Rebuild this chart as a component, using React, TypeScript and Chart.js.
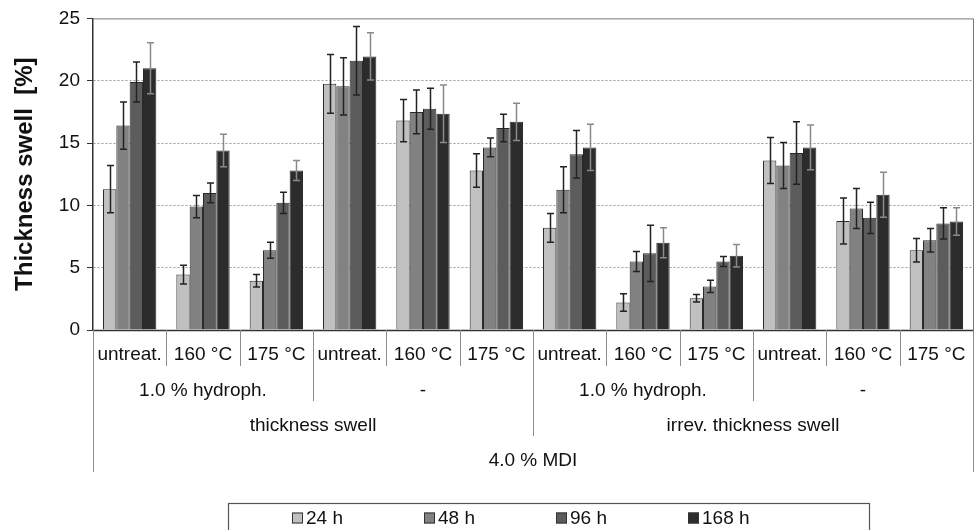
import React, { useEffect, useRef } from "react";
import { Chart, registerables } from "chart.js";

Chart.register(...registerables);

const categories = [
  "untreat.", "160 °C", "175 °C",
  "untreat.", "160 °C", "175 °C",
  "untreat.", "160 °C", "175 °C",
  "untreat.", "160 °C", "175 °C",
];
const additiveLabels = ["1.0 % hydroph.", "-", "1.0 % hydroph.", "-"];
const measureLabels = ["thickness swell", "irrev. thickness swell"];
const resinLabel = "4.0 % MDI";

const seriesNames = ["24 h", "48 h", "96 h", "168 h"];
const seriesColors = ["#c0c0c0", "#828282", "#5c5c5c", "#2c2c2c"];
const errorColors = ["#222222", "#222222", "#222222", "#8a8a8a"];

const values24 = [11.3, 4.45, 3.95, 19.75, 16.8, 12.8, 8.2, 2.2, 2.55, 13.6, 8.75, 6.4];
const values48 = [16.4, 9.9, 6.4, 19.55, 17.5, 14.65, 11.25, 5.5, 3.5, 13.2, 9.75, 7.2];
const values96 = [19.9, 11.0, 10.2, 21.6, 17.75, 16.2, 14.1, 6.15, 5.5, 14.2, 9.0, 8.55];
const values168 = [21.0, 14.4, 12.8, 21.95, 17.35, 16.7, 14.65, 7.0, 5.95, 14.65, 10.85, 8.7];

const errors24 = [1.9, 0.75, 0.5, 2.35, 1.7, 1.35, 1.15, 0.7, 0.3, 1.85, 1.85, 0.95];
const errors48 = [1.9, 0.9, 0.65, 2.3, 1.75, 0.75, 1.85, 0.8, 0.5, 1.85, 1.6, 0.95];
const errors96 = [1.6, 0.8, 0.85, 2.75, 1.65, 1.1, 1.9, 2.25, 0.4, 2.5, 1.25, 1.25];
const errors168 = [2.05, 1.3, 0.8, 1.9, 2.3, 1.5, 1.85, 1.2, 0.9, 1.8, 1.8, 1.1];

const yTicks = [0, 5, 10, 15, 20, 25];
const yTitle = "Thickness swell  [%]";

const seriesValues = [values24, values48, values96, values168];
const seriesErrors = [errors24, errors48, errors96, errors168];

const FONT = "'Liberation Sans', Arial, sans-serif";

const errorBarPlugin = {
  id: "errorBars",
  afterDatasetsDraw(chart: any) {
    const ctx = chart.ctx;
    const y = chart.scales.y;
    ctx.save();
    chart.data.datasets.forEach((ds: any, i: number) => {
      const meta = chart.getDatasetMeta(i);
      meta.data.forEach((el: any, j: number) => {
        const v = ds.data[j];
        const e = seriesErrors[i][j];
        const top = y.getPixelForValue(v + e);
        const bot = y.getPixelForValue(v - e);
        const x = Math.round(el.x) + 0.5;
        ctx.strokeStyle = errorColors[i];
        ctx.lineWidth = 1.5;
        ctx.beginPath();
        ctx.moveTo(x, top);
        ctx.lineTo(x, bot);
        ctx.moveTo(x - 3.5, top);
        ctx.lineTo(x + 3.5, top);
        ctx.moveTo(x - 3.5, bot);
        ctx.lineTo(x + 3.5, bot);
        ctx.stroke();
      });
    });
    ctx.restore();
  },
};

const framePlugin = {
  id: "frameAndLabels",
  afterDraw(chart: any) {
    const ctx = chart.ctx;
    const { left, right, top, bottom } = chart.chartArea;
    const n = categories.length;
    const catW = (right - left) / n;
    ctx.save();
    ctx.lineWidth = 1;
    ctx.strokeStyle = "#777";
    ctx.beginPath();
    ctx.moveTo(left, top + 0.5);
    ctx.lineTo(right + 0.5, top + 0.5);
    ctx.lineTo(right + 0.5, bottom);
    ctx.stroke();
    ctx.strokeStyle = "#333";
    ctx.lineWidth = 1.5;
    ctx.beginPath();
    ctx.moveTo(left, bottom + 0.5);
    ctx.lineTo(right + 0.5, bottom + 0.5);
    ctx.stroke();

    ctx.strokeStyle = "#8c8c8c";
    ctx.lineWidth = 1;
    for (let i = 0; i <= n; i++) {
      const x = Math.round(left + i * catW) + 0.5;
      let len = 36;
      if (i % 12 === 0) len = 142;
      else if (i % 6 === 0) len = 106;
      else if (i % 3 === 0) len = 71;
      ctx.beginPath();
      ctx.moveTo(x, bottom);
      ctx.lineTo(x, bottom + len);
      ctx.stroke();
    }

    ctx.fillStyle = "#111";
    ctx.font = `19px ${FONT}`;
    ctx.textAlign = "center";
    ctx.textBaseline = "middle";
    categories.forEach((c, i) => {
      ctx.fillText(c, left + (i + 0.5) * catW, bottom + 25);
    });
    additiveLabels.forEach((c, i) => {
      ctx.fillText(c, left + (i * 3 + 1.5) * catW, bottom + 61);
    });
    measureLabels.forEach((c, i) => {
      ctx.fillText(c, left + (i * 6 + 3) * catW, bottom + 96);
    });
    ctx.fillText(resinLabel, left + 6 * catW, bottom + 131);

    ctx.strokeStyle = "#555";
    ctx.lineWidth = 1.2;
    ctx.strokeRect(228.5, 503.5, 641, 40);
    const startX = 292;
    const step = 132;
    const cy = 518;
    ctx.textAlign = "left";
    chart.data.datasets.forEach((ds: any, i: number) => {
      const x = startX + i * step;
      ctx.fillStyle = ds.backgroundColor;
      ctx.fillRect(x, cy - 5.5, 11, 11);
      ctx.strokeStyle = "#333";
      ctx.lineWidth = 1;
      ctx.strokeRect(x + 0.5, cy - 5, 10, 10);
      ctx.fillStyle = "#111";
      ctx.font = `19px ${FONT}`;
      ctx.fillText(ds.label, x + 14, cy + 1);
    });
    ctx.restore();
  },
};

export default function App() {
  const canvasRef = useRef<HTMLCanvasElement | null>(null);

  useEffect(() => {
    document.body.style.margin = "0";
    const canvas = canvasRef.current;
    if (!canvas) return;
    const chart = new Chart(canvas, {
      type: "bar",
      data: {
        labels: categories,
        datasets: seriesNames.map((name, i) => ({
          label: name,
          data: seriesValues[i],
          backgroundColor: seriesColors[i],
          borderColor: "#2a2a2a",
          borderWidth: 1,
          categoryPercentage: 0.727,
          barPercentage: 1.0,
        })),
      },
      options: {
        animation: false,
        responsive: true,
        maintainAspectRatio: false,
        layout: { padding: { left: 0, right: 3, top: 18, bottom: 200 } },
        plugins: {
          legend: { display: false },
          tooltip: { enabled: false },
        },
        scales: {
          x: {
            display: false,
          },
          y: {
            min: 0,
            max: 25,
            afterBuildTicks(scale: any) {
              scale.ticks = yTicks.map((v) => ({ value: v }));
            },
            afterFit(scale: any) {
              scale.width = 93;
            },
            ticks: {
              font: { family: FONT, size: 19 },
              color: "#111",
              padding: 7,
            },
            grid: {
              color: (c: any) =>
                c.tick && (c.tick.value === 0 || c.tick.value === 25) ? "rgba(0,0,0,0)" : "#9a9a9a",
              tickColor: "#333",
              tickLength: 6,
              drawTicks: true,
            },
            border: { display: true, color: "#333", width: 1.5, dash: [2, 2] },
            title: {
              display: true,
              text: yTitle,
              font: { family: FONT, size: 24, weight: "bold" },
              color: "#111",
              padding: { top: 11, bottom: 0 },
            },
          },
        },
      },
      plugins: [errorBarPlugin, framePlugin],
    });
    return () => chart.destroy();
  }, []);

  return (
    <div style={{ width: 976, height: 530, position: "relative" }}>
      <canvas ref={canvasRef} />
    </div>
  );
}
